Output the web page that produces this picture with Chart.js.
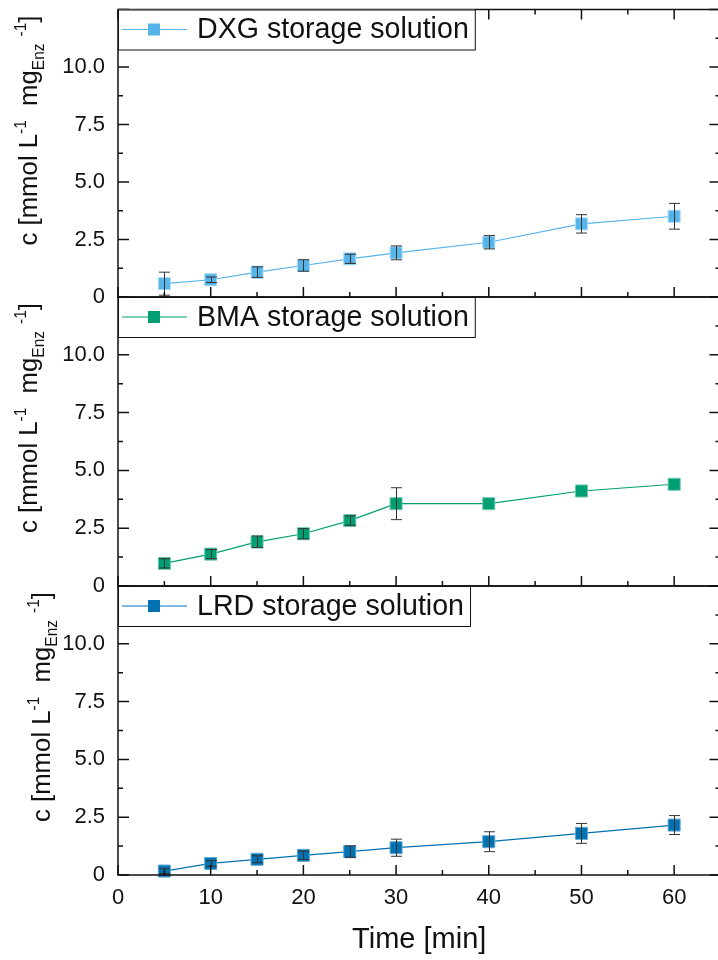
<!DOCTYPE html>
<html>
<head>
<meta charset="utf-8">
<title>Enzyme storage solutions</title>
<script src="https://cdn.jsdelivr.net/npm/chart.js@4.4.1/dist/chart.umd.min.js"></script>
<style>
  html, body { margin: 0; padding: 0; background: #fff; overflow: hidden; }
  #wrap { position: relative; width: 718px; height: 960px; overflow: hidden; background: #fff; }
  #wrap canvas { position: absolute; left: 0; top: 0; }
</style>
</head>
<body>
<div id="wrap">
  <canvas id="panel-dxg" width="730" height="960"></canvas>
  <canvas id="panel-bma" width="730" height="960"></canvas>
  <canvas id="panel-lrd" width="730" height="960"></canvas>
</div>
<script>
'use strict';

// ***** DATA *****
const times = [5, 10, 15, 20, 25, 30, 40, 50, 60];

const dxgValues = [0.58, 0.75, 1.08, 1.37, 1.66, 1.92, 2.38, 3.18, 3.51];
const dxgErrors = [0.50, 0.12, 0.23, 0.25, 0.20, 0.30, 0.29, 0.40, 0.56];

const bmaValues = [0.98, 1.38, 1.91, 2.26, 2.83, 3.56, 3.56, 4.11, 4.40];
const bmaErrors = [0.20, 0.20, 0.25, 0.22, 0.20, 0.69, 0, 0, 0];

const lrdValues = [0.17, 0.50, 0.68, 0.85, 1.01, 1.18, 1.44, 1.80, 2.16];
const lrdErrors = [0.10, 0.12, 0.15, 0.18, 0.25, 0.37, 0.43, 0.43, 0.41];

const xMajorTicks = [0, 10, 20, 30, 40, 50, 60];
const xMinorTicks = [5, 15, 25, 35, 45, 55];
const yMajorTicks = [0, 2.5, 5, 7.5, 10, 12.5];
const yMinorTicks = [1.25, 3.75, 6.25, 8.75, 11.25];
const yLabelTicks = [0, 2.5, 5, 7.5, 10];

const xTitle = 'Time [min]';

// ***** LAYOUT *****
const FONT = '"Liberation Sans", Arial, Helvetica, sans-serif';
const CANVAS_W = 730;
const CANVAS_H = 960;
const PLOT_LEFT = 118;
const PLOT_RIGHT = 723.5;

const panels = [
  { id: 'panel-dxg', label: 'DXG storage solution', values: dxgValues, errors: dxgErrors,
    color: '#56B4E9', edge: '#a9dcf6', top: 8, bottom: 297, topTicks: true, titleX: 37, showX: false },
  { id: 'panel-bma', label: 'BMA storage solution', values: bmaValues, errors: bmaErrors,
    color: '#009E73', edge: '#6cc7ad', top: 297, bottom: 586, topTicks: false, titleX: 37, showX: false },
  { id: 'panel-lrd', label: 'LRD storage solution', values: lrdValues, errors: lrdErrors,
    color: '#0072B2', edge: '#62a7d1', top: 586, bottom: 875, topTicks: false, titleX: 50, showX: true }
];

// ***** HELPERS *****
function drawYTitle(ctx, x, y, length) {
  const size = 26;
  const parts = [
    { text: 'c [mmol L', k: 1, shift: 0 },
    { text: '-1', k: 0.6, shift: -0.42 },
    { text: '  mg', k: 1, shift: 0 },
    { text: 'Enz', k: 0.6, shift: 0.26 },
    { text: ' ', k: 1, shift: 0 },
    { text: '-1', k: 0.6, shift: -0.42 },
    { text: ']', k: 1, shift: 0 }
  ];
  let total = 0;
  parts.forEach(p => {
    ctx.font = `${size * p.k}px ${FONT}`;
    p.w = ctx.measureText(p.text).width;
    total += p.w;
  });
  ctx.save();
  ctx.translate(x, y);
  ctx.rotate(-Math.PI / 2);
  ctx.scale(length / total, 1);
  ctx.fillStyle = '#111';
  ctx.textBaseline = 'alphabetic';
  ctx.textAlign = 'left';
  let cursor = 0;
  parts.forEach(p => {
    ctx.font = `${size * p.k}px ${FONT}`;
    ctx.fillText(p.text, cursor, p.shift * size);
    cursor += p.w;
  });
  ctx.restore();
}

function drawErrorBars(chart) {
  const ctx = chart.ctx;
  const xScale = chart.scales.x;
  const yScale = chart.scales.y;
  const ds = chart.data.datasets[0];
  ctx.save();
  ctx.strokeStyle = '#333';
  ctx.lineWidth = 1;
  ds.data.forEach((pt, i) => {
    const err = ds.errors[i];
    if (!err) return;
    const x = Math.round(xScale.getPixelForValue(pt.x)) + 0.5;
    const yTop = yScale.getPixelForValue(pt.y + err);
    const yBot = yScale.getPixelForValue(pt.y - err);
    ctx.beginPath();
    ctx.moveTo(x, yTop);
    ctx.lineTo(x, yBot);
    ctx.moveTo(x - 5.5, yTop);
    ctx.lineTo(x + 5.5, yTop);
    ctx.moveTo(x - 5.5, yBot);
    ctx.lineTo(x + 5.5, yBot);
    ctx.stroke();
  });
  ctx.restore();
}

function drawFrame(chart, opts) {
  const ctx = chart.ctx;
  const area = chart.chartArea;
  const xScale = chart.scales.x;
  const yScale = chart.scales.y;
  ctx.save();
  ctx.strokeStyle = '#111';
  ctx.lineWidth = 1.5;
  ctx.strokeRect(area.left, area.top, area.right - area.left, area.bottom - area.top);

  ctx.beginPath();
  const xTick = (list, len) => {
    list.forEach(v => {
      const x = xScale.getPixelForValue(v);
      ctx.moveTo(x, area.bottom);
      ctx.lineTo(x, area.bottom - len);
      if (opts.topTicks) {
        ctx.moveTo(x, area.top);
        ctx.lineTo(x, area.top + len);
      }
    });
  };
  const yTick = (list, len) => {
    list.forEach(v => {
      const y = yScale.getPixelForValue(v);
      ctx.moveTo(area.left, y);
      ctx.lineTo(area.left + len, y);
      ctx.moveTo(area.right, y);
      ctx.lineTo(area.right - len, y);
    });
  };
  xTick(xMajorTicks, 10);
  xTick(xMinorTicks, 5);
  yTick(yMajorTicks, 11);
  yTick(yMinorTicks, 5);
  ctx.stroke();
  ctx.restore();
}

function drawLegend(chart, opts) {
  const ctx = chart.ctx;
  const area = chart.chartArea;
  const ds = chart.data.datasets[0];
  const left = area.left;
  const top = area.top;
  const h = 40;
  ctx.save();
  ctx.font = `28.6px ${FONT}`;
  const textX = left + 79;
  const w = textX + ctx.measureText(ds.label).width + 6 - left;
  ctx.fillStyle = '#fff';
  ctx.fillRect(left, top, w, h);
  ctx.strokeStyle = '#111';
  ctx.lineWidth = 1;
  ctx.strokeRect(left + 0.5, top + 0.5, w, h);

  const cy = top + h / 2;
  ctx.strokeStyle = opts.color;
  ctx.lineWidth = 1.2;
  ctx.beginPath();
  ctx.moveTo(left + 4, cy);
  ctx.lineTo(left + 69, cy);
  ctx.stroke();
  ctx.fillStyle = opts.color;
  ctx.fillRect(left + 36 - 6, cy - 6, 12, 12);

  ctx.fillStyle = '#111';
  ctx.textBaseline = 'middle';
  ctx.textAlign = 'left';
  ctx.fillText(ds.label, textX, cy + 1);
  ctx.restore();
}

const panelDecor = {
  id: 'panelDecor',
  afterDatasetsDraw(chart) {
    drawErrorBars(chart);
  },
  afterDraw(chart, args, opts) {
    drawFrame(chart, opts);
    drawLegend(chart, opts);
    drawYTitle(chart.ctx, opts.titleX, chart.chartArea.top + 236, 230);
    if (opts.showX) {
      const ctx = chart.ctx;
      ctx.save();
      ctx.font = `29px ${FONT}`;
      ctx.fillStyle = '#111';
      ctx.textAlign = 'center';
      ctx.textBaseline = 'middle';
      ctx.fillText(xTitle, (chart.chartArea.left + chart.chartArea.right) / 2, 940);
      ctx.restore();
    }
  }
};

// ***** CHARTS *****
Chart.defaults.font.family = FONT;
Chart.defaults.color = '#111';

function clearScalePadding(scale) {
  scale.paddingTop = 0;
  scale.paddingBottom = 0;
  scale.paddingLeft = 0;
  scale.paddingRight = 0;
}

function renderPanel(p) {
  const ctx = document.getElementById(p.id).getContext('2d');
  const points = times.map((t, i) => ({ x: t, y: p.values[i] }));

  let myChart = new Chart(ctx, { //eslint-disable-line
    type: 'line',
    data: {
      datasets: [{
        label: p.label,
        data: points,
        errors: p.errors,
        borderColor: p.color,
        borderWidth: 1.2,
        backgroundColor: p.color,
        pointStyle: 'rect',
        pointRadius: 8.5,
        pointBackgroundColor: p.color,
        pointBorderColor: p.edge,
        pointBorderWidth: 1,
        tension: 0,
        clip: false
      }]
    },
    options: {
      responsive: false,
      animation: false,
      events: [],
      layout: {
        padding: {
          left: 0,
          right: CANVAS_W - PLOT_RIGHT,
          top: p.top,
          bottom: 0
        }
      },
      scales: {
        x: {
          type: 'linear',
          min: 0,
          max: 65,
          grid: { display: false, drawTicks: false },
          border: { display: false },
          afterBuildTicks: scale => {
            scale.ticks = xMajorTicks.map(v => ({ value: v }));
          },
          ticks: {
            display: p.showX,
            padding: 10,
            font: { size: 22 },
            color: '#111',
            maxRotation: 0,
            autoSkip: false,
            callback: v => String(v)
          },
          afterFit: scale => {
            scale.height = CANVAS_H - p.bottom;
            clearScalePadding(scale);
          }
        },
        y: {
          type: 'linear',
          min: 0,
          max: 12.5,
          grid: { display: false, drawTicks: false },
          border: { display: false },
          afterBuildTicks: scale => {
            scale.ticks = yLabelTicks.map(v => ({ value: v }));
          },
          ticks: {
            padding: 13,
            font: { size: 22 },
            color: '#111',
            autoSkip: false,
            callback: v => (v === 0 ? '0' : v.toFixed(1))
          },
          afterFit: scale => {
            scale.width = PLOT_LEFT;
            clearScalePadding(scale);
          }
        }
      },
      plugins: {
        legend: { display: false },
        tooltip: { enabled: false },
        panelDecor: {
          color: p.color,
          topTicks: p.topTicks,
          titleX: p.titleX,
          showX: p.showX
        }
      }
    },
    plugins: [panelDecor]
  });
}

// ****** EXECUTABLE CODE *******
panels.forEach(renderPanel);
</script>
</body>
</html>
